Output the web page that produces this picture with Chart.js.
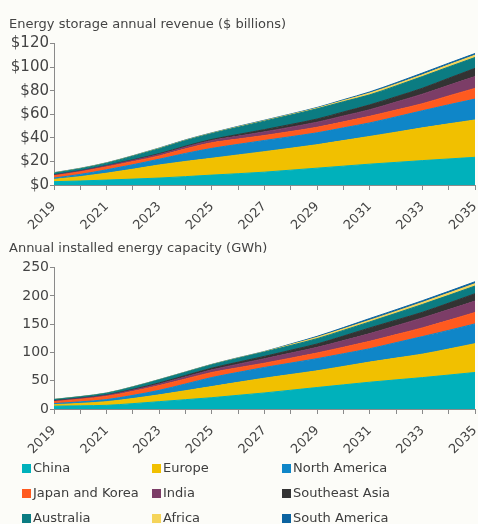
<!DOCTYPE html>
<html>
<head>
<meta charset="utf-8">
<script src="https://cdn.jsdelivr.net/npm/chart.js@4.4.1/dist/chart.umd.min.js"></script>
<style>
  body { margin: 0; background: #fcfcf8; font-family: 'DejaVu Sans', sans-serif; }
  #wrap { position: relative; width: 478px; height: 524px; overflow: hidden; }
  canvas { position: absolute; left: 0; }
  #revenue { top: 0; }
  #capacity { top: 224px; }
  #legend { position: absolute; left: 0; top: 459px; width: 478px; z-index: 2; }
  .item { position: absolute; font-size: 13px; color: #3d3d3d; white-space: nowrap; line-height: 18px; }
  .item span { position: absolute; left: -11px; top: 5px; width: 9px; height: 9px; }
</style>
</head>
<body>
<div id="wrap">
  <canvas id="revenue" width="478" height="240"></canvas>
  <canvas id="capacity" width="478" height="240"></canvas>
  <div id="legend"></div>
</div>
<script>
let years = ['2019','2020','2021','2022','2023','2024','2025','2026','2027','2028','2029','2030','2031','2032','2033','2034','2035'];

let regions = ['China','Europe','North America','Japan and Korea','India','Southeast Asia','Australia','Africa','South America'];
let regionColors = ['#00b1bb','#f1c000','#0f86c8','#ff5a1f','#7c3d67','#333333','#0b7c82','#f5d45a','#0c63a0'];

// revenue, $ billions
let revChina     = [2.8, 3.4, 4.2, 5.0, 5.9, 7.1, 8.4, 9.6, 10.9, 12.6, 14.3, 16.0, 17.7, 19.2, 20.7, 22.1, 23.5];
let revEurope    = [2.0, 3.7, 5.8, 8.4, 11.1, 12.9, 14.3, 15.9, 17.4, 18.6, 19.9, 21.7, 23.5, 25.6, 27.8, 29.8, 31.7];
let revNAmerica  = [1.1, 1.9, 2.9, 3.8, 4.9, 6.8, 8.4, 9.0, 9.5, 9.8, 10.1, 10.8, 11.5, 13.0, 14.5, 16.2, 17.7];
let revJapanKor  = [1.9, 2.2, 2.5, 2.7, 2.8, 3.9, 4.8, 4.5, 4.2, 4.4, 4.7, 5.1, 5.6, 5.8, 6.0, 7.5, 9.1];
let revIndia     = [0.6, 0.7, 0.9, 1.1, 1.3, 1.6, 1.9, 2.5, 3.1, 3.7, 4.3, 5.0, 5.6, 6.8, 8.1, 9.0, 10.0];
let revSEAsia    = [0.3, 0.2, 0.2, 0.4, 0.6, 0.7, 0.9, 1.4, 1.9, 2.3, 2.7, 3.4, 4.1, 4.5, 5.0, 6.0, 7.0];
let revAustralia = [1.4, 1.7, 2.0, 3.1, 4.2, 4.7, 5.0, 6.1, 7.2, 8.0, 8.7, 8.7, 8.5, 9.2, 9.9, 9.6, 9.2];
let revAfrica    = [0.2, 0.2, 0.2, 0.2, 0.3, 0.3, 0.3, 0.4, 0.4, 0.5, 0.6, 1.0, 1.5, 1.5, 1.5, 1.8, 2.0];
let revSAmerica  = [0.2, 0.2, 0.2, 0.2, 0.3, 0.3, 0.3, 0.4, 0.4, 0.4, 0.5, 0.7, 1.0, 1.2, 1.5, 1.4, 1.4];

// installed capacity, GWh
let capChina     = [5.0, 5.6, 6.5, 9.5, 13.0, 16.5, 20.0, 24.2, 28.4, 33.2, 38.0, 42.7, 47.4, 51.5, 55.5, 60.0, 64.6];
let capEurope    = [2.5, 4.3, 6.5, 9.0, 12.0, 15.8, 19.7, 23.0, 26.1, 27.8, 29.5, 32.5, 35.6, 38.5, 41.5, 46.0, 50.9];
let capNAmerica  = [2.0, 2.7, 3.6, 5.6, 8.0, 12.0, 16.0, 17.6, 19.0, 20.2, 21.5, 22.5, 23.6, 27.3, 31.0, 33.0, 35.0];
let capJapanKor  = [3.5, 4.6, 5.9, 7.2, 8.5, 8.8, 8.9, 8.2, 7.5, 8.7, 10.0, 11.5, 13.1, 14.2, 15.4, 17.8, 20.1];
let capIndia     = [1.0, 1.4, 1.8, 2.3, 2.9, 3.8, 4.7, 6.3, 7.9, 9.0, 10.0, 11.8, 13.6, 15.6, 17.6, 18.9, 20.2];
let capSEAsia    = [0.8, 0.7, 0.6, 1.2, 1.8, 2.4, 3.0, 3.6, 4.1, 5.0, 6.0, 8.0, 10.1, 10.0, 10.0, 11.5, 13.0];
let capAustralia = [1.8, 2.3, 2.9, 4.1, 5.3, 5.6, 5.9, 6.8, 7.7, 8.5, 9.4, 10.0, 10.6, 12.2, 13.8, 13.7, 13.6];
let capAfrica    = [0.2, 0.2, 0.2, 0.3, 0.3, 0.3, 0.4, 0.5, 0.6, 1.5, 2.4, 2.7, 3.0, 3.3, 3.7, 4.0, 4.2];
let capSAmerica  = [0.2, 0.2, 0.3, 0.3, 0.4, 0.4, 0.4, 0.5, 0.5, 1.1, 1.7, 2.3, 3.0, 3.0, 3.0, 3.2, 3.4];

let revenueSeries  = [revChina, revEurope, revNAmerica, revJapanKor, revIndia, revSEAsia, revAustralia, revAfrica, revSAmerica];
let capacitySeries = [capChina, capEurope, capNAmerica, capJapanKor, capIndia, capSEAsia, capAustralia, capAfrica, capSAmerica];

let axisGrey = '#8a8a8a';
let textGrey = '#444444';

let makeDatasets = (series) => series.map((values, i) => ({
  label: regions[i],
  data: values,
  backgroundColor: regionColors[i],
  borderColor: regionColors[i],
  borderWidth: 1,
  pointRadius: 0,
  tension: 0.4,
  cubicInterpolationMode: 'monotone',
  fill: i === 0 ? 'origin' : '-1',
}));

let makeChart = (canvasId, title, series, maxY, step, tickFont, fmt) => {
  new Chart(document.getElementById(canvasId), {
    type: 'line',
    data: { labels: years, datasets: makeDatasets(series) },
    options: {
      responsive: false,
      animation: false,
      layout: { padding: { left: 9, right: 3, top: 0, bottom: 0 } },
      plugins: {
        legend: { display: false },
        tooltip: { enabled: false },
        title: {
          display: true,
          text: title,
          align: 'start',
          color: textGrey,
          font: { family: 'DejaVu Sans', size: 13, weight: 'normal' },
          padding: { top: 17, bottom: 11 },
        },
      },
      scales: {
        x: {
          grid: { display: true, drawOnChartArea: false, drawTicks: true, tickLength: 5, color: axisGrey },
          border: { display: true, color: axisGrey },
          ticks: {
            autoSkip: false,
            maxRotation: 45,
            minRotation: 45,
            padding: 9,
            color: textGrey,
            font: { family: 'DejaVu Sans', size: 13 },
            callback: function (v, i) { return i % 2 === 0 ? this.getLabelForValue(v) : ''; },
          },
          afterFit: (axis) => {
            axis.height = 55;
            axis.paddingLeft = 0;
            axis.paddingRight = 0;
          },
        },
        y: {
          stacked: true,
          min: 0,
          max: maxY,
          grid: { display: true, drawOnChartArea: false, drawTicks: true, tickLength: 4, color: axisGrey },
          border: { display: true, color: axisGrey },
          ticks: {
            stepSize: step,
            padding: 1,
            color: textGrey,
            font: { family: 'DejaVu Sans', size: tickFont },
            callback: fmt,
          },
          afterFit: (axis) => { axis.width = 45; },
        },
      },
    },
  });
};

makeChart('revenue', 'Energy storage annual revenue ($ billions)', revenueSeries, 120, 20, 15, (v) => '$' + v);
makeChart('capacity', 'Annual installed energy capacity (GWh)', capacitySeries, 250, 50, 14, (v) => v);

// legend, three columns
let legendCols = [33, 163, 293];
let legendBox = document.getElementById('legend');
regions.forEach((name, i) => {
  let item = document.createElement('div');
  item.className = 'item';
  item.style.left = legendCols[i % 3] + 'px';
  item.style.top = (Math.floor(i / 3) * 25) + 'px';
  item.innerHTML = '<span style="background:' + regionColors[i] + '"></span>' + name;
  legendBox.appendChild(item);
});
</script>
</body>
</html>
